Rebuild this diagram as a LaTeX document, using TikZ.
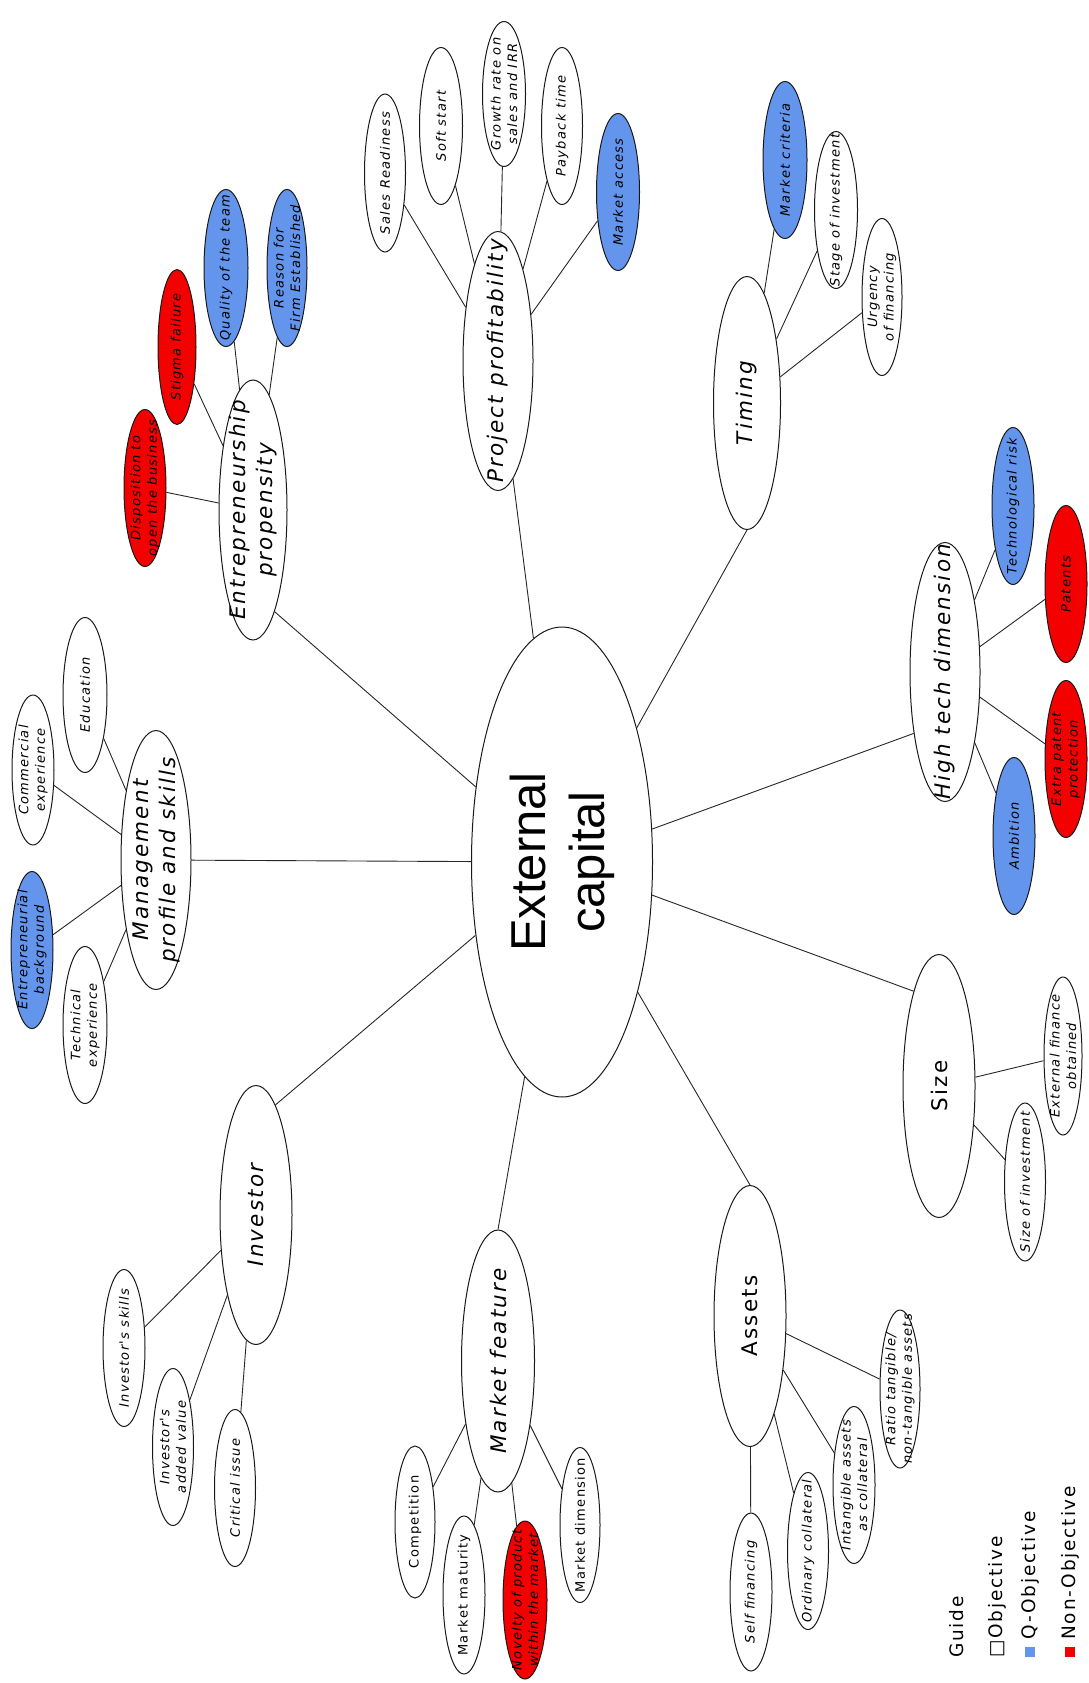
\documentclass[tikz,border=0pt]{standalone}
\usepackage{fontspec}
\usepackage{tikz}
\usetikzlibrary{shapes}
\newfontfamily\ovalfont[LetterSpace=10]{DejaVu Sans}
\newfontfamily\capfont{Liberation Sans}
\definecolor{qblue}{RGB}{100,149,237}
\definecolor{nred}{RGB}{245,0,0}
\newcommand{\leafsize}{\ovalfont\fontsize{13}{16.5}\selectfont}
\newcommand{\branchsize}{\ovalfont\fontsize{21.5}{27}\selectfont}
\tikzset{
  oval/.style={ellipse, draw=black!90, line width=1pt, fill=white, inner sep=0pt},
  link/.style={draw=black!85, line width=0.9pt},
  leaftext/.style={rotate=90, align=center, inner sep=0pt, font=\leafsize\itshape},
  upleaftext/.style={leaftext, font=\leafsize},
  branchtext/.style={rotate=90, align=center, inner sep=0pt, font=\branchsize\itshape},
  upbranchtext/.style={branchtext, font=\branchsize},
  leaf/.style={oval, minimum width=42pt, minimum height=157pt, label={[leaftext]center:#1}},
  upleaf/.style={oval, minimum width=41pt, minimum height=155pt, label={[upleaftext]center:#1}},
  qleaf/.style={leaf={#1}, fill=qblue},
  nleaf/.style={leaf={#1}, fill=nred},
  branch/.style={oval, minimum width=70pt, minimum height=259pt, label={[branchtext]center:#1}},
  upbranch/.style={oval, minimum width=72pt, minimum height=261pt, label={[upbranchtext]center:#1}},
  guidetext/.style={rotate=90, anchor=west, inner sep=0pt, font=\ovalfont\fontsize{18.5}{22}\selectfont}
}
\begin{document}
\begin{tikzpicture}[x=1pt,y=-1pt]
\useasboundingbox (0,0) rectangle (1088,1683);
%centre
\node[oval, minimum width=181pt, minimum height=470pt,
  label={[rotate=90, align=center, inner sep=0pt, font=\capfont\fontsize{49}{59}\selectfont]center:External\\capital}] (ext) at (562,862) {};
%branches
\node[branch={Management\\profile and skills}] (mgmt) at (156,860) {};
\node[branch={Entrepreneurship\\propensity}, minimum width=68pt, minimum height=260pt] (ep) at (253,510) {};
\node[branch={Project profitability}] (pp) at (498,361) {};
\node[branch={Timing}, minimum width=67pt, minimum height=253pt] (timing) at (747,403) {};
\node[branch={High tech dimension}] (htd) at (945,672) {};
\node[upbranch={Size}, minimum height=263pt] (size) at (939,1086) {};
\node[upbranch={Assets}] (assets) at (750,1316) {};
\node[branch={Market feature}, minimum width=73pt, minimum height=262pt] (mf) at (498,1361) {};
\node[branch={Investor}, minimum width=72pt] (inv) at (256,1215) {};
%management leaves
\node[leaf={Education}, minimum width=44pt, minimum height=155pt] (edu) at (85,695) {};
\node[leaf={Commercial\\experience}, minimum height=150pt] (comm) at (33,770) {};
\node[qleaf={Entrepreneurial\\background}] (entbg) at (32,950) {};
\node[leaf={Technical\\experience}, minimum width=44pt] (tech) at (85,1025) {};
%entrepreneurship leaves
\node[nleaf={Disposition to\\open the business}] (disp) at (145,488) {};
\node[nleaf={Stigma failure}, minimum width=38pt, minimum height=155pt] (stigma) at (177,347) {};
\node[qleaf={Quality of the team}, minimum width=44pt] (qteam) at (226,268) {};
\node[qleaf={Reason for\\Firm Established}, minimum width=40pt] (reason) at (287,268) {};
%profitability leaves
\node[leaf={Sales Readiness}, minimum width=41pt, minimum height=158pt] (sales) at (385,173) {};
\node[leaf={Soft start}, minimum width=43pt] (soft) at (441,126) {};
\node[leaf={Growth rate on\\sales and IRR}, minimum width=43pt, minimum height=145pt] (growth) at (504,94) {};
\node[leaf={Payback time}, minimum width=41pt] (payback) at (562,126) {};
\node[qleaf={Market access}, minimum width=43pt] (maccess) at (618,192) {};
%timing leaves
\node[qleaf={Market criteria}, minimum width=44pt] (mcrit) at (785,160) {};
\node[leaf={Stage of investment}, minimum width=43pt] (stage) at (836,210) {};
\node[leaf={Urgency\\of financing}, minimum width=40pt] (urgency) at (882,297) {};
%high tech leaves
\node[qleaf={Technological risk}] (techrisk) at (1013,506) {};
\node[nleaf={Patents}] (patents) at (1066,584) {};
\node[nleaf={Extra patent\\protection}] (extra) at (1066,759) {};
\node[qleaf={Ambition}] (ambition) at (1014,836) {};
%size leaves
\node[leaf={External finance\\obtained}, minimum width=38pt, minimum height=158pt] (extfin) at (1063,1056) {};
\node[leaf={Size of investment}, minimum width=41pt, minimum height=158pt] (sizeinv) at (1025,1182) {};
%assets leaves
\node[leaf={Self financing}, minimum height=158pt] (selffin) at (751,1592) {};
\node[leaf={Ordinary collateral}, minimum width=41pt] (ordcoll) at (808,1551) {};
\node[leaf={Intangible assets\\as collateral}] (intang) at (854,1485) {};
\node[leaf={Ratio tangible/\\non-tangible assets}, minimum width=40pt, minimum height=158pt] (ratio) at (900,1389) {};
%market leaves
\node[upleaf={Competition}, minimum width=40pt, minimum height=152pt] (comp) at (415,1522) {};
\node[upleaf={Market maturity}, minimum width=42pt, minimum height=158pt] (mmat) at (464,1595) {};
\node[nleaf={Novelty of product\\within the market}, minimum width=44pt, minimum height=158pt] (novelty) at (525,1600) {};
\node[upleaf={Market dimension}, minimum width=40pt] (mdim) at (580,1525) {};
%investor leaves
\node[leaf={Investor's skills}] (invskills) at (124,1348) {};
\node[leaf={Investor's\\added value}, minimum width=41pt] (invadded) at (173,1447) {};
\node[leaf={Critical issue}, minimum width=41pt] (critical) at (235,1488) {};
%spokes
\draw[link] (ext) -- (mgmt);
\draw[link] (ext) -- (ep.-78);
\draw[link] (ext) -- (pp);
\draw[link] (ext) -- (timing.south);
\draw[link] (ext) -- (htd.243);
\draw[link] (ext) -- (size.105);
\draw[link] (ext) -- (assets.north);
\draw[link] (ext) -- (mf.north);
\draw[link] (ext) -- (inv.80);
%leaf links
\foreach \c in {edu,comm,entbg,tech} \draw[link] (mgmt) -- (\c);
\foreach \c in {disp,stigma,qteam,reason} \draw[link] (ep) -- (\c);
\foreach \c in {sales,soft,growth,payback,maccess} \draw[link] (pp) -- (\c);
\foreach \c in {mcrit,stage,urgency} \draw[link] (timing) -- (\c);
\foreach \c in {techrisk,patents,extra,ambition} \draw[link] (htd) -- (\c);
\foreach \c in {extfin,sizeinv} \draw[link] (size) -- (\c);
\foreach \c in {selffin,ordcoll,intang,ratio} \draw[link] (assets) -- (\c);
\foreach \c in {comp,mmat,novelty,mdim} \draw[link] (mf) -- (\c);
\foreach \c in {invskills,invadded,critical} \draw[link] (inv) -- (\c);
%guide
\node[guidetext] (guide) at (957,1658) {Guide};
\node[guidetext] (objective) at (997,1658) {□Objective};
\node[fill=qblue, minimum size=10pt, inner sep=0pt] (qsq) at (1030,1652) {};
\node[guidetext] (qobjective) at (1030,1640) {Q-Objective};
\node[fill=nred, minimum size=10pt, inner sep=0pt] (nsq) at (1070,1652) {};
\node[guidetext] (nobjective) at (1070,1640) {Non-Objective};
\end{tikzpicture}
\end{document}
